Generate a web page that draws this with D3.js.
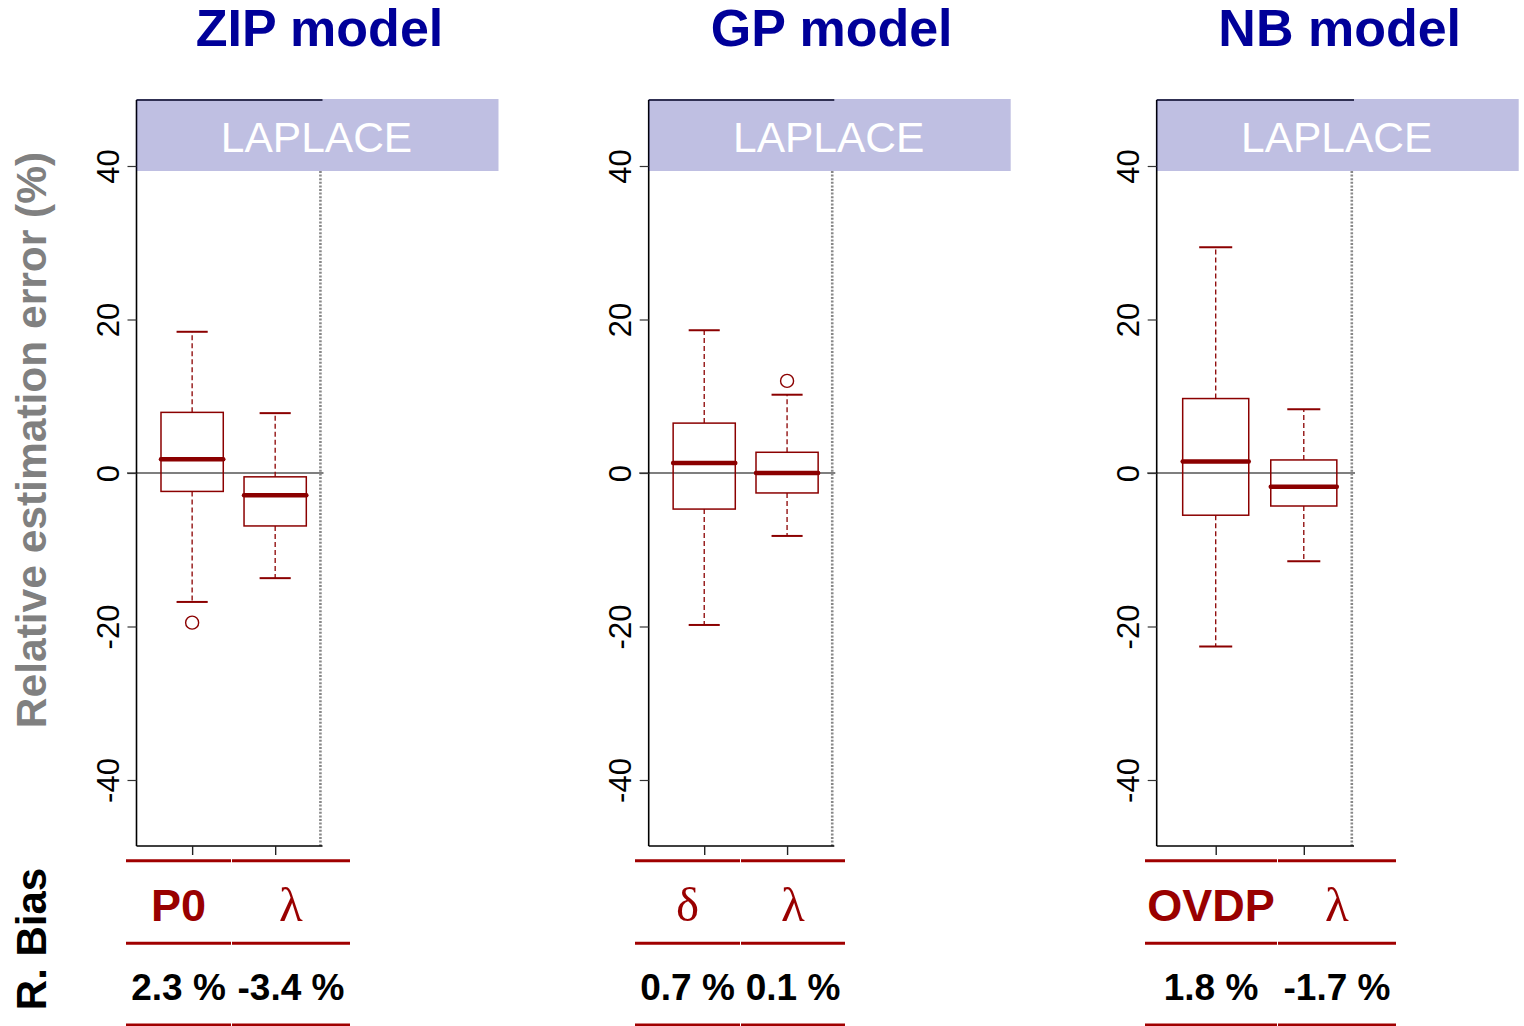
<!DOCTYPE html>
<html>
<head>
<meta charset="utf-8">
<script src="https://cdn.jsdelivr.net/npm/d3@7/dist/d3.min.js"></script>
<style>
  html, body { margin: 0; padding: 0; background: #fff; }
  svg { display: block; font-family: "Liberation Sans", Arial, sans-serif; }
</style>
</head>
<body>
<svg id="chart" width="1524" height="1026"></svg>
<script>
// ---- data ----
const models = ["ZIP model", "GP model", "NB model"];
const methodLabel = "LAPLACE";
const params = [["P0", "λ"], ["δ", "λ"], ["OVDP", "λ"]];
const bias = [[2.3, -3.4], [0.7, 0.1], [1.8, -1.7]];
// boxplot summaries (relative estimation error, %)
const whiskerLow  = [[-16.8, -13.7], [-19.8, -8.2], [-22.6, -11.5]];
const q1          = [[-2.4, -6.9],   [-4.7, -2.6],  [-5.5, -4.3]];
const medians     = [[1.8, -2.9],    [1.3, 0.0],    [1.5, -1.8]];
const q3          = [[7.9, -0.5],    [6.5, 2.7],    [9.7, 1.7]];
const whiskerHigh = [[18.4, 7.8],    [18.6, 10.2],  [29.4, 8.3]];
const outliers    = [[[-19.5], []],  [[], [12.0]], [[], []]];
const yTicks = [-40, -20, 0, 20, 40];

// ---- layout ----
const panelLeft  = [136.5, 648.7, 1156.7];
const panelRight = [322.5, 834.3, 1354];
const tableLeft  = [126, 635, 1145];
const tableMid   = [231, 740, 1277];
const tableRight = [350, 845, 1396];
const plotTop = 100, plotBottom = 846;
const bandHeight = 71, bandWidth = 362;

const boxColor = "#8b0000";
const tableRed = "#a00000";

const svg = d3.select("#chart");

// shared vertical scale
const y = d3.scaleLinear().domain([-48.6, 48.6]).range([plotBottom, plotTop]);

// axis titles on the left
svg.append("text")
  .attr("transform", `translate(46,440) rotate(-90)`)
  .attr("text-anchor", "middle")
  .attr("font-size", 42.5).attr("font-weight", "bold")
  .attr("fill", "#808080")
  .text("Relative estimation error (%)");

svg.append("text")
  .attr("transform", `translate(46,939) rotate(-90)`)
  .attr("text-anchor", "middle")
  .attr("font-size", 42).attr("font-weight", "bold")
  .attr("fill", "#000")
  .text("R. Bias");

models.forEach((model, m) => {
  const x = d3.scaleLinear().domain([0.33, 2.57]).range([panelLeft[m], panelRight[m]]);
  const unit = x(1) - x(0);
  const g = svg.append("g");
  const bandCenter = panelLeft[m] + bandWidth / 2;

  // model title
  svg.append("text")
    .attr("x", bandCenter + 2).attr("y", 46)
    .attr("text-anchor", "middle")
    .attr("font-size", 52).attr("font-weight", "bold")
    .attr("fill", "#000099")
    .text(model);

  // zero reference line
  g.append("line")
    .attr("x1", panelLeft[m] - 9.5).attr("x2", panelRight[m] + 1)
    .attr("y1", y(0)).attr("y2", y(0))
    .attr("stroke", "#555").attr("stroke-width", 1.4);

  // dotted separator on the right of the plot, below the method band
  g.append("line")
    .attr("x1", x(2.545)).attr("x2", x(2.545))
    .attr("y1", plotTop + bandHeight).attr("y2", plotBottom)
    .attr("stroke", "#888").attr("stroke-width", 2.6)
    .attr("stroke-dasharray", "2,1.6");

  // y axis
  const yAxis = d3.axisLeft(y).tickValues(yTicks).tickSize(9).tickFormat(d => String(d));
  const ya = g.append("g").attr("transform", `translate(${panelLeft[m]},0)`).call(yAxis);
  ya.select(".domain").attr("d", `M0,${plotTop}V${plotBottom}`).attr("stroke", "#000").attr("stroke-width", 1.6);
  ya.selectAll(".tick line").attr("stroke", "#333").attr("stroke-width", 1.2);
  ya.selectAll(".tick text")
    .attr("font-size", 31).attr("fill", "#000")
    .attr("font-family", "Liberation Sans, Arial, sans-serif")
    .attr("text-anchor", "middle").attr("dy", null)
    .attr("x", null)
    .attr("transform", "translate(-17.5,0) rotate(-90)");

  // x axis
  const xAxis = d3.axisBottom(x).tickValues([1, 2]).tickSize(9).tickFormat("");
  const xa = g.append("g").attr("transform", `translate(0,${plotBottom})`).call(xAxis);
  xa.select(".domain").attr("d", `M${panelLeft[m]},0H${panelRight[m]}`).attr("stroke", "#000").attr("stroke-width", 1.6);
  xa.selectAll(".tick line").attr("stroke", "#222").attr("stroke-width", 1.4);

  // top frame segment
  g.append("line")
    .attr("x1", panelLeft[m]).attr("x2", panelRight[m])
    .attr("y1", plotTop).attr("y2", plotTop)
    .attr("stroke", "#000").attr("stroke-width", 1.4);

  // boxes
  const boxes = [0, 1].map(i => ({
    pos: i + 1,
    lo: whiskerLow[m][i], q1: q1[m][i], med: medians[m][i],
    q3: q3[m][i], hi: whiskerHigh[m][i], out: outliers[m][i]
  }));
  const half = 0.375 * unit, capHalf = 0.1875 * unit;

  boxes.forEach(b => {
    const cx = x(b.pos);
    const bg = g.append("g");
    // whiskers
    [[b.q3, b.hi], [b.q1, b.lo]].forEach(([a, c]) => {
      bg.append("line")
        .attr("x1", cx).attr("x2", cx).attr("y1", y(a)).attr("y2", y(c))
        .attr("stroke", boxColor).attr("stroke-width", 1.3)
        .attr("stroke-dasharray", "5,3");
      bg.append("line")
        .attr("x1", cx - capHalf).attr("x2", cx + capHalf)
        .attr("y1", y(c)).attr("y2", y(c))
        .attr("stroke", boxColor).attr("stroke-width", 2);
    });
    // box
    bg.append("rect")
      .attr("x", cx - half).attr("width", 2 * half)
      .attr("y", y(b.q3)).attr("height", y(b.q1) - y(b.q3))
      .attr("fill", "none").attr("stroke", boxColor).attr("stroke-width", 1.5);
    // median
    bg.append("line")
      .attr("x1", cx - half).attr("x2", cx + half)
      .attr("y1", y(b.med)).attr("y2", y(b.med))
      .attr("stroke", boxColor).attr("stroke-width", 4.5)
      .attr("stroke-linecap", "round");
    // outliers
    bg.selectAll("circle.out").data(b.out).enter().append("circle")
      .attr("class", "out")
      .attr("cx", cx).attr("cy", d => y(d)).attr("r", 6.5)
      .attr("fill", "none").attr("stroke", boxColor).attr("stroke-width", 1.4);
  });

  // method band
  g.append("rect")
    .attr("x", panelLeft[m]).attr("y", plotTop - 1)
    .attr("width", bandWidth).attr("height", bandHeight + 1)
    .attr("fill", "#00008b").attr("fill-opacity", 0.25);
  g.append("text")
    .attr("x", bandCenter - 1).attr("y", 151.5)
    .attr("text-anchor", "middle")
    .attr("font-size", 42.5).attr("fill", "#fff")
    .text(methodLabel);

  // bias table
  const cols = [[tableLeft[m], tableMid[m]], [tableMid[m] + 1, tableRight[m]]];
  [860.7, 943.3, 1025].forEach(ly => {
    cols.forEach(([a, c]) => {
      svg.append("line")
        .attr("x1", a).attr("x2", c).attr("y1", ly).attr("y2", ly)
        .attr("stroke", tableRed).attr("stroke-width", 3);
    });
  });
  cols.forEach(([a, c], i) => {
    const cx = (a + c) / 2;
    const p = params[m][i];
    const greek = /^[\u0370-\u03ff]$/.test(p);
    svg.append("text")
      .attr("x", cx).attr("y", 921)
      .attr("text-anchor", "middle")
      .attr("font-size", greek ? 49 : 45)
      .attr("font-weight", greek ? "normal" : "bold")
      .attr("font-family", greek ? "Liberation Serif, Times New Roman, serif" : null)
      .attr("fill", "#990000")
      .text(p);
    svg.append("text")
      .attr("x", cx).attr("y", 1000)
      .attr("text-anchor", "middle")
      .attr("font-size", 37).attr("font-weight", "bold")
      .attr("fill", "#000")
      .text(bias[m][i].toFixed(1) + " %");
  });
});
</script>
</body>
</html>
